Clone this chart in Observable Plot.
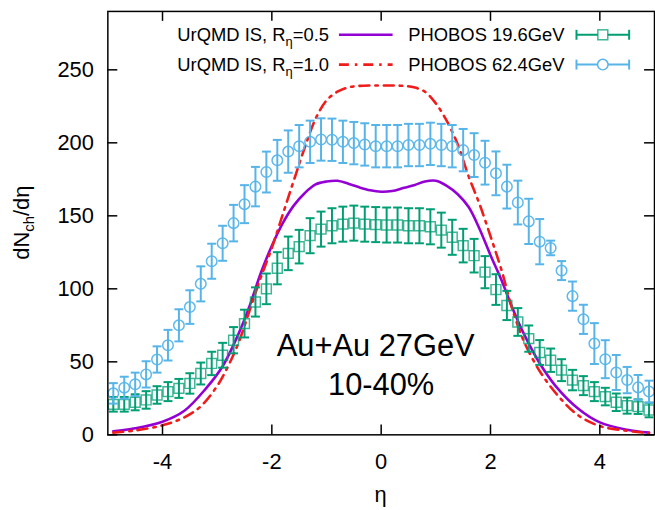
<!DOCTYPE html>
<html>
<head>
<meta charset="utf-8">
<script src="https://cdn.jsdelivr.net/npm/d3@7"></script>
<script src="https://cdn.jsdelivr.net/npm/@observablehq/plot@0.6"></script>
<style>
  html, body { margin: 0; padding: 0; background: white; overflow: hidden; }
  #chart { width: 655px; height: 510px; overflow: hidden; }
</style>
</head>
<body>
<div id="chart"></div>
<script>
// ---- data ----
const etaBins = [-4.9,-4.7,-4.5,-4.3,-4.1,-3.9,-3.7,-3.5,-3.3,-3.1,-2.9,-2.7,-2.5,-2.3,-2.1,-1.9,-1.7,-1.5,-1.3,-1.1,-0.9,-0.7,-0.5,-0.3,-0.1,0.1,0.3,0.5,0.7,0.9,1.1,1.3,1.5,1.7,1.9,2.1,2.3,2.5,2.7,2.9,3.1,3.3,3.5,3.7,3.9,4.1,4.3,4.5,4.7,4.9];
const phobos196 = [20.9,20.9,22.3,23.9,27.3,29.6,31.8,35.2,42,48.9,54.5,64.8,76.2,91,100,114.1,124.3,128.9,136.4,140.9,143.2,144.3,145,144.3,144,143.7,143.7,143.2,143.2,142.5,140.2,135.3,129.6,122.7,111.4,99.5,88.6,77.3,65.9,56.4,51.1,44.3,37.5,33.7,29.6,26.2,22.3,20,19.3,17];
const err196 = [5,5,5.5,6,6,6.5,6.5,7,7.5,8,8.5,9,9.5,10,10.5,11,11.5,11.5,12,12,12,12,12,12,12,12,12,12,12,12,12,12,11.5,11.5,11,10.5,10,9.5,9,8.5,8,7.5,7,6.5,6.5,6,6,5.5,5,5];
const phobos624 = [28.4,32.3,34.6,41.4,51.6,61.4,75,87.5,103.4,118.9,131.2,145,158,170,180,188,194,197.7,200.7,202.3,202.1,200.7,199.8,198.9,197.7,197.7,197.7,198.5,198.5,199.3,198.5,197.7,195,191.6,186.4,179.1,170,159.1,146.2,132.3,128,112.5,95,79.1,62.5,51.8,42.7,37.5,32.5,29.6];
const err624 = [7,7.5,8,9,9,10.5,11,11.5,12,12,12,12.5,13,13.5,14,14,14.5,14.5,14.5,14.5,14.5,14.5,14.5,14.5,14.5,14.5,14.5,14.5,14.5,14.5,14.5,14.5,14.5,15,15,15,15,15,15.5,15.5,5,6.5,10,10,14,13,12,9,8.5,7.5];

const etaR05 = [-4.9,-4.5,-4.0,-3.6,-3.2,-2.9,-2.6,-2.4,-2.2,-2.0,-1.8,-1.6,-1.4,-1.2,-1.0,-0.8,-0.6,-0.4,-0.2,0,0.2,0.4,0.6,0.8,1.0,1.2,1.4,1.6,1.8,2.0,2.2,2.4,2.6,2.9,3.2,3.6,4.0,4.5,4.9];
const dndetaR05 = [2.5,4.5,9,16.5,32,47,70,89,111,129.5,145,157,165.5,171.5,173.5,174,172,169.5,167.5,166.5,167,169,171,173.5,174,170.5,164.8,156,141,123,106,87,70,49,33,18,8.5,3.5,1.5];

const etaR10 = [-4.9,-4.5,-4.0,-3.6,-3.3,-3.0,-2.8,-2.6,-2.4,-2.2,-2.0,-1.8,-1.6,-1.4,-1.2,-1.0,-0.8,-0.6,-0.4,-0.2,0,0.2,0.4,0.6,0.8,1.0,1.2,1.4,1.6,1.8,2.0,2.2,2.4,2.6,2.8,3.0,3.3,3.6,4.0,4.5,4.9];
const dndetaR10 = [1.5,3,6.5,12,19.5,33.5,47,64,86,108,128,151,174,196.5,216.5,229,235,238,239,239.3,239.3,239.3,239,238,235,227,215,199,177,158,136,113,86,65,50,38,24,13.5,6,2.8,1.2];

const xTicks = [-4,-2,0,2,4];
const yTicks = [0,50,100,150,200,250];

const seriesNames = ["UrQMD IS, R", "PHOBOS 19.6GeV", "PHOBOS 62.4GeV"];

// ---- colours ----
const cPurple = "#9400d3", cRed = "#f01c1c", cGreen = "#009e73", cBlue = "#56b4e9";

const d196 = etaBins.map((x, i) => ({x, v: phobos196[i], e: err196[i]}));
const d624 = etaBins.map((x, i) => ({x, v: phobos624[i], e: err624[i]}));
const l05 = etaR05.map((x, i) => ({x, y: dndetaR05[i]}));
const l10 = etaR10.map((x, i) => ({x, y: dndetaR10[i]}));

const capSymbol = {draw(ctx) { ctx.moveTo(-4.5, 0); ctx.lineTo(4.5, 0); }};

function errMarks(data, color, symbol, r, markerOpacity) {
  return [
    Plot.ruleX(data, {x: "x", y1: d => d.v - d.e, y2: d => d.v + d.e, stroke: color, strokeWidth: 2}),
    Plot.dot(data, {x: "x", y: d => d.v + d.e, symbol: capSymbol, stroke: color, strokeWidth: 2, r: 3}),
    Plot.dot(data, {x: "x", y: d => d.v - d.e, symbol: capSymbol, stroke: color, strokeWidth: 2, r: 3}),
    Plot.dot(data, {x: "x", y: "v", symbol, r, stroke: color, strokeWidth: 1.5, fill: "none", strokeOpacity: markerOpacity})
  ];
}

const W = 659, H = 510, mL = 108, mR = 1, mT = 11, mB = 73;
const innerW = W - mL - mR, innerH = H - mT - mB;

const plot = Plot.plot({
  width: W, height: H,
  marginLeft: mL, marginRight: mR, marginTop: mT, marginBottom: mB,
  style: {fontFamily: "'Liberation Sans', Arial, Helvetica, sans-serif", fontSize: "22px", background: "white", color: "black"},
  x: {domain: [-5, 5], axis: null},
  y: {domain: [0, 290], axis: null},
  marks: [
    Plot.line(l05, {x: "x", y: "y", stroke: cPurple, strokeWidth: 2.6, curve: "catmull-rom"}),
    Plot.line(l10, {x: "x", y: "y", stroke: cRed, strokeWidth: 2.6, strokeDasharray: "10,6,2.5,6", curve: "catmull-rom"}),
    ...errMarks(d196, cGreen, "square", 5.6, 0.75),
    ...errMarks(d624, cBlue, "circle", 5.3, 0.95),
    Plot.frame({stroke: "black", strokeWidth: 1.5}),
    Plot.tickX(xTicks, {x: d => d, stroke: "black", strokeWidth: 1.5, insetTop: innerH - 10}),
    Plot.tickX(xTicks, {x: d => d, stroke: "black", strokeWidth: 1.5, insetBottom: innerH - 10}),
    Plot.tickY(yTicks, {y: d => d, stroke: "black", strokeWidth: 1.5, insetRight: innerW - 10}),
    Plot.tickY(yTicks, {y: d => d, stroke: "black", strokeWidth: 1.5, insetLeft: innerW - 10}),
    Plot.axisX(xTicks, {tickSize: 0, tickPadding: 19, tickFormat: d => String(d), fontSize: 22, label: null}),
    Plot.axisY(yTicks, {tickSize: 0, tickPadding: 14, tickFormat: d => String(d), fontSize: 22, label: null}),
    Plot.text(["Au+Au 27GeV"], {x: -0.1, y: 61, text: d => d, fontSize: 31, textAnchor: "middle", lineAnchor: "middle"}),
    Plot.text(["10-40%"], {x: 0, y: 34, text: d => d, fontSize: 31, textAnchor: "middle", lineAnchor: "middle"})
  ]
});

document.getElementById("chart").appendChild(plot);

// ---- axis titles and key (text with subscripts) ----
const svg = d3.select(plot);
const ff = "'Liberation Sans', Arial, Helvetica, sans-serif";

const yl = svg.append("text").attr("transform", `translate(29,${mT + innerH / 2}) rotate(-90)`)
  .attr("text-anchor", "middle").attr("font-size", 22).attr("font-family", ff).attr("fill", "black");
yl.append("tspan").text("dN");
yl.append("tspan").attr("font-size", 15).attr("dy", 5).text("ch");
yl.append("tspan").attr("dy", -5).text("/dη");

svg.append("text").attr("x", 383).attr("y", 505).attr("text-anchor", "middle")
  .attr("font-size", 22).attr("font-family", ff).attr("fill", "black").text("η");

const key = svg.append("g").attr("font-family", ff).attr("font-size", 18.5).attr("fill", "black");
const rows = [
  {label: "0.5", y: 35, dash: null, color: cPurple},
  {label: "1.0", y: 65, dash: "10,6,2.5,6", color: cRed}
];
rows.forEach(r => {
  const t = key.append("text").attr("x", 331).attr("y", r.y + 6.5).attr("text-anchor", "end");
  t.append("tspan").text(seriesNames[0]);
  t.append("tspan").attr("font-size", 13).attr("dy", 5).text("η");
  t.append("tspan").attr("dy", -5).text("=" + r.label);
  key.append("line").attr("x1", 341).attr("x2", 395).attr("y1", r.y).attr("y2", r.y)
    .attr("stroke", r.color).attr("stroke-width", 2.6).attr("stroke-dasharray", r.dash);
});
const drows = [
  {name: seriesNames[1], y: 35, color: cGreen, sym: "square"},
  {name: seriesNames[2], y: 65, color: cBlue, sym: "circle"}
];
drows.forEach(r => {
  key.append("text").attr("x", 568).attr("y", r.y + 6.5).attr("text-anchor", "end").text(r.name);
  const g = key.append("g").attr("stroke", r.color).attr("stroke-width", 2).attr("fill", "none");
  g.append("line").attr("x1", 580).attr("x2", 633).attr("y1", r.y).attr("y2", r.y);
  g.append("line").attr("x1", 580).attr("x2", 580).attr("y1", r.y - 5).attr("y2", r.y + 5);
  g.append("line").attr("x1", 633).attr("x2", 633).attr("y1", r.y - 5).attr("y2", r.y + 5);
  if (r.sym === "square") {
    g.append("rect").attr("x", 601.5).attr("y", r.y - 5).attr("width", 10).attr("height", 10)
      .attr("fill", "white").attr("stroke-width", 1.5).attr("stroke-opacity", 0.75);
  } else {
    g.append("circle").attr("cx", 606.5).attr("cy", r.y).attr("r", 5.3)
      .attr("fill", "white").attr("stroke-width", 1.5);
  }
});
</script>
</body>
</html>
